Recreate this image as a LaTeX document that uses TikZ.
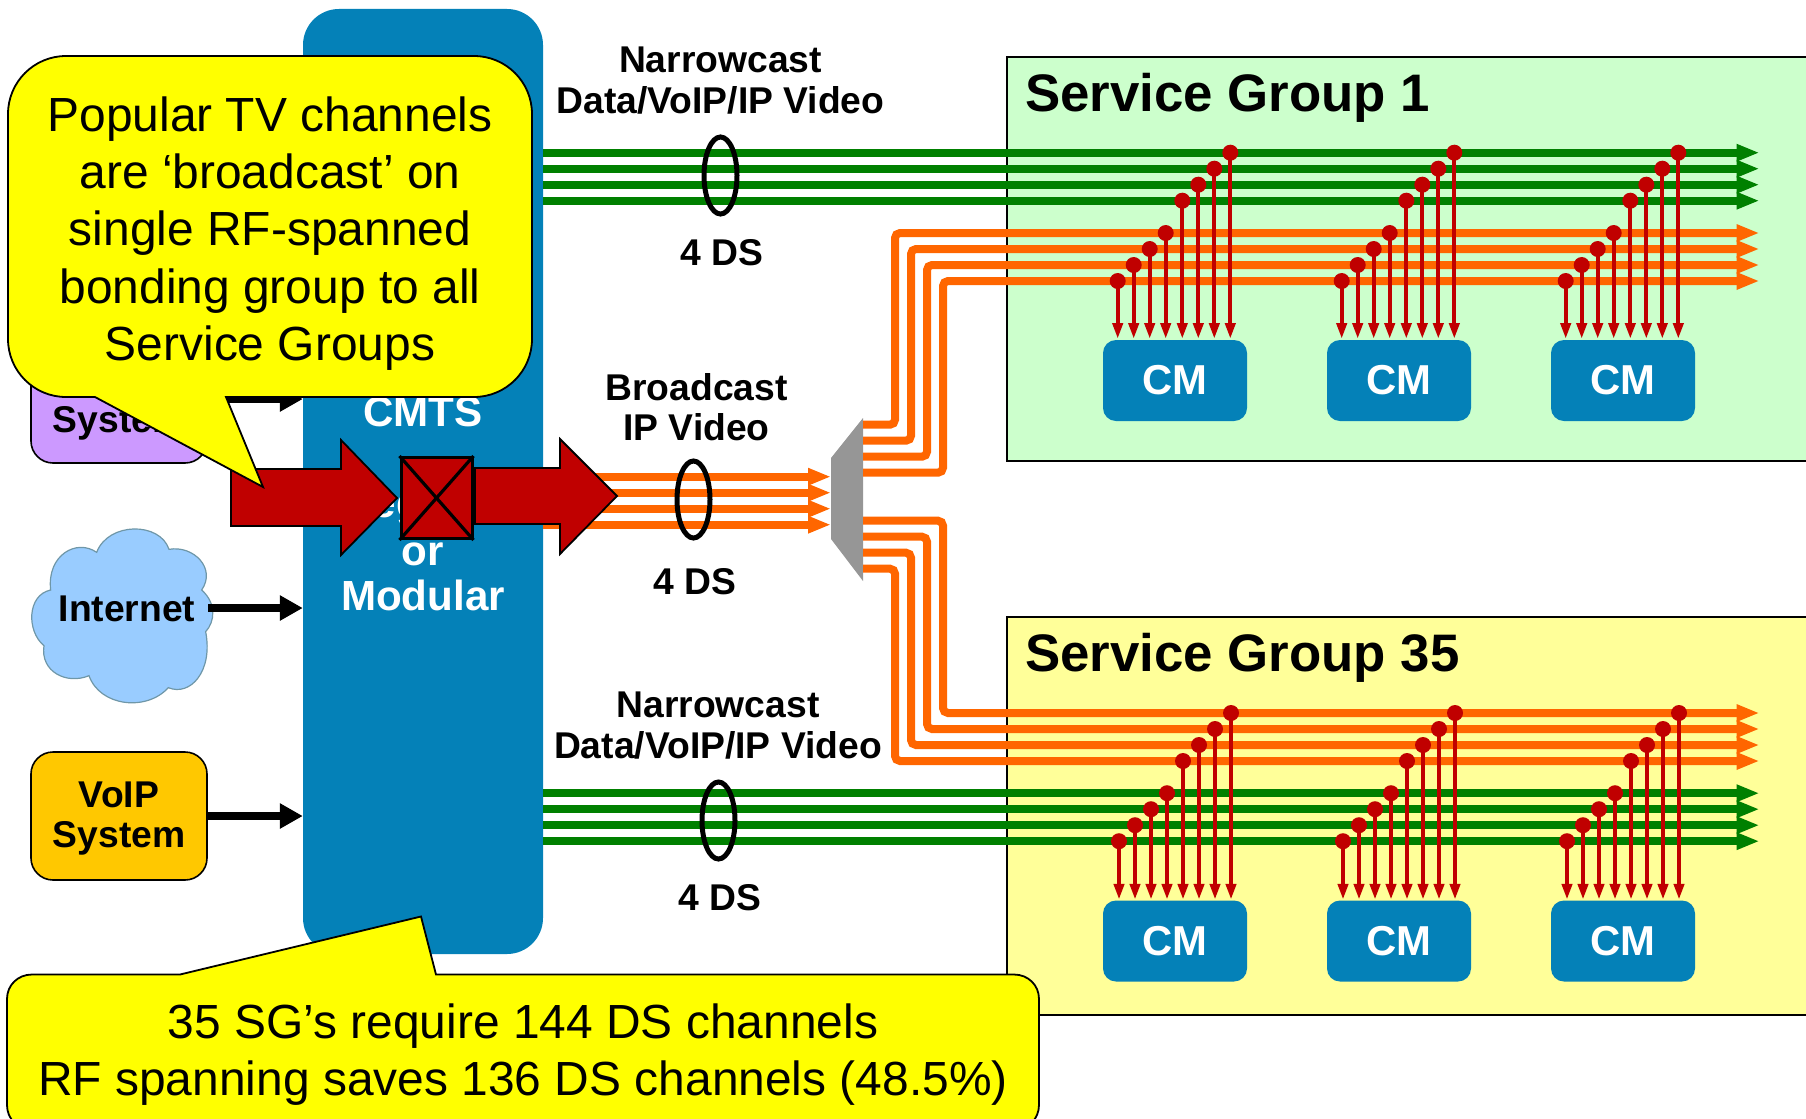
\documentclass[tikz,border=0pt]{standalone}
\usepackage{fontspec}
\setmainfont{Liberation Sans}
\usetikzlibrary{arrows.meta}
\definecolor{cmtsblue}{HTML}{0481B8}
\definecolor{sgone}{HTML}{CCFFCC}
\definecolor{sgtwo}{HTML}{FFFF99}
\definecolor{orangeline}{HTML}{FF6600}
\definecolor{greenline}{HTML}{008000}
\definecolor{redm}{HTML}{C00000}
\definecolor{purplebox}{HTML}{CC99FF}
\definecolor{voipbox}{HTML}{FFC800}
\definecolor{cloudfill}{HTML}{99CCFF}
\definecolor{cloudedge}{HTML}{6F97A8}
\definecolor{splitgray}{HTML}{969696}
\definecolor{callyellow}{HTML}{FFFF00}
\tikzset{
  x=1bp,y=-1bp,
  lab/.style={font=\bfseries\fontsize{37.4}{40.3}\selectfont,align=center,inner sep=0pt,text=black},
  sglab/.style={font=\bfseries\fontsize{53}{56}\selectfont,inner sep=0pt,anchor=base west,text=black},
  whitelab/.style={font=\bfseries\fontsize{42.3}{46}\selectfont,inner sep=0pt,anchor=base,text=white},
  cmbox/.style={fill=cmtsblue,rounded corners=13bp,minimum width=144bp,minimum height=81bp,inner sep=0pt,font=\bfseries\fontsize{42}{46}\selectfont,text=white},
  sgrect/.style={draw=black,line width=2.4bp},
  feed/.style={line width=8bp,-{Triangle[length=23bp,width=16bp]}},
  tap/.style={redm,line width=4bp,-{Triangle[length=16bp,width=10bp]}},
  tapdot/.style={fill=redm,draw=none},
  inarrow/.style={line width=8bp,black,-{Triangle[length=23bp,width=24bp]}},
  srcbox/.style={draw=black,line width=1.6bp,rounded corners=22bp,minimum width=176bp,minimum height=128bp,inner sep=0pt},
  bundle/.style={draw=black,line width=5bp},
  bigarrow/.style={fill=redm,draw=black,line width=1.8bp,line join=miter},
  callout/.style={fill=callyellow,draw=black,line width=1.8bp,line join=miter},
  calltext/.style={font=\fontsize{48.1}{57.5}\selectfont,align=center,inner sep=0pt,text=black},
}
\begin{document}
\begin{tikzpicture}
\useasboundingbox (0,0) rectangle (1806,1118);
\clip (0,0) rectangle (1806,1118);

% service groups
\draw[sgrect,fill=sgone] (1007,57) rectangle (1830,461);
\draw[sgrect,fill=sgtwo] (1007,617) rectangle (1830,1015);
\node[sglab] (sg1) at (1025,111) {Service Group 1};
\node[sglab] (sg35) at (1025,671) {Service Group 35};

% source boxes
\node[srcbox,fill=purplebox] (video) at (119,399) {};
\node[lab,anchor=base] (videotxt) at (119,432) {System};
\node[srcbox,fill=voipbox] (voip) at (119,816) {};
\node[lab] (voiptxt) at (119,818.5) {VoIP\\System};

% cloud
\begin{scope}[shift={(20,515)},scale=1/3]
\path[fill=cloudfill,draw=cloudedge,line width=1.2bp]
  (230,112) .. controls (265,20) and (420,20) .. (447,103)
  .. controls (520,90) and (590,160) .. (545,225)
  .. controls (590,265) and (585,320) .. (557,350)
  .. controls (580,470) and (510,545) .. (445,518)
  .. controls (380,590) and (240,575) .. (207,482)
  .. controls (140,510) and (60,470) .. (72,392)
  .. controls (20,350) and (20,240) .. (92,225)
  .. controls (80,120) and (170,70) .. (230,112) -- cycle;
\end{scope}
\node[lab,anchor=base] (internet) at (127,621.5) {Internet};

% CMTS
\node[fill=cmtsblue,rounded corners=36bp,minimum width=240bp,minimum height=945bp,inner sep=0pt] (cmts) at (423,481.5) {};
\node[whitelab] (t1) at (423,426) {CMTS};
\node[whitelab] (t2) at (423,517) {Integrated};
\node[whitelab] (t3) at (423,565) {or};
\node[whitelab] (t4) at (423,610) {Modular};

% black input arrows
\coordinate (inetout) at (208,608);
\draw[inarrow] ([xshift=3bp]video.east) -- (video.east -| cmts.west);
\draw[inarrow] (inetout) -- (inetout -| cmts.west);
\draw[inarrow] (voip.east) -- (voip.east -| cmts.west);

% green feeds
\foreach \y in {152.7,168.7,184.7,200.7,793.2,809.2,825.2,841.2}
  \draw[feed,greenline] (cmts.east |- 0,\y) -- (1759.5,\y);

% splitter
\path[fill=splitgray] (831,458) -- (863,418) -- (863,581) -- (831,539) -- cycle;
\coordinate (splitin) at (831,500);

% broadcast input
\foreach \y in {476.7,492.7,508.7,524.7}
  \draw[feed,orangeline] (cmts.east |- 0,\y) -- (831,\y);

% orange fan
\foreach \a/\xx/\b in {424.7/895/233,440.7/911/249,456.7/927/265,472.7/943/281,
                        520.7/943/713,536.7/927/729,552.7/911/745,568.7/895/761}
  \draw[feed,orangeline,rounded corners=5bp] (863,\a) -- (\xx,\a) -- (\xx,\b) -- (1759.5,\b);

% taps and cable modems
\foreach \dx/\n in {0/a,224/b,448/c}{
  \node[cmbox] (cmt\n) at (1175+\dx,380.5) {CM};
  \node[cmbox] (cml\n) at (1175+\dx,941) {CM};
  \foreach \xx/\y in {1117.7/281,1133.7/265,1149.7/249,1165.7/233,1182.3/200.7,1198.3/184.7,1214.3/168.7,1230.3/152.7}{
    \draw[tap] (\xx+\dx,\y) -- (\xx+\dx,339);
    \fill[tapdot] (\xx+\dx,\y) circle[radius=8bp];
  }
  \foreach \xx/\y in {1119/841.2,1135/825.2,1151/809.2,1167/793.2,1183/761,1199/745,1215/729,1231/713}{
    \draw[tap] (\xx+\dx,\y) -- (\xx+\dx,899.8);
    \fill[tapdot] (\xx+\dx,\y) circle[radius=8bp];
  }
}

% bundle ellipses and labels
\draw[bundle] (720.5,175.5) ellipse[x radius=16.5bp,y radius=38.5bp];
\draw[bundle] (693.5,499.5) ellipse[x radius=16.5bp,y radius=38.5bp];
\draw[bundle] (718.5,820.5) ellipse[x radius=16.5bp,y radius=38.5bp];
\node[lab] (n1) at (720.5,80.5) {Narrowcast\\Data/VoIP/IP Video};
\node[lab,anchor=base] (ds1) at (721.5,265) {4 DS};
\node[lab] (b1) at (696.5,407) {Broadcast\\IP Video};
\node[lab,anchor=base] (ds2) at (695,594) {4 DS};
\node[lab] (n2) at (718,725.5) {Narrowcast\\Data/VoIP/IP Video};
\node[lab,anchor=base] (ds3) at (719.5,910) {4 DS};

% big red arrows and switch box
\draw[bigarrow] (231,469) -- (341,469) -- (341,440) -- (397,498) -- (341,555) -- (341,526) -- (231,526) -- cycle;
\draw[bigarrow] (475,468) -- (560,468) -- (560,439) -- (617,496) -- (560,554) -- (560,524) -- (475,524) -- cycle;
\node[fill=redm,draw=black,line width=3bp,minimum width=71bp,minimum height=81bp,inner sep=0pt] (xbox) at (436.5,498) {};
\draw[black,line width=3.2bp] (xbox.north west) -- (xbox.south east);
\draw[black,line width=3.2bp] (xbox.north east) -- (xbox.south west);

% callouts
\draw[callout] (66,56) -- (474,56) .. controls (506,56) and (532,82) .. (532,114)
  -- (532,339) .. controls (532,371) and (506,397) .. (474,397)
  -- (226,397) -- (263,487) -- (95,397) -- (66,397)
  .. controls (34,397) and (8,371) .. (8,339) -- (8,114)
  .. controls (8,82) and (34,56) .. (66,56) -- cycle;
\node[calltext] (c1) at (270,233.5) {Popular TV channels\\are ‘broadcast’ on\\single RF-spanned\\bonding group to all\\Service Groups};

\draw[callout] (32,974.5) -- (180,974.5) -- (421,916.5) -- (436,974.5) -- (1014,974.5)
  .. controls (1028,974.5) and (1039,985) .. (1039,999) -- (1039,1105)
  .. controls (1039,1119) and (1028,1130) .. (1014,1130) -- (32,1130)
  .. controls (18,1130) and (7,1119) .. (7,1105) -- (7,999)
  .. controls (7,985) and (18,974.5) .. (32,974.5) -- cycle;
\node[calltext] (c2) at (523,1054.5) {35 SG’s require 144 DS channels\\RF spanning saves 136 DS channels (48.5\%)};
\end{tikzpicture}
\end{document}
